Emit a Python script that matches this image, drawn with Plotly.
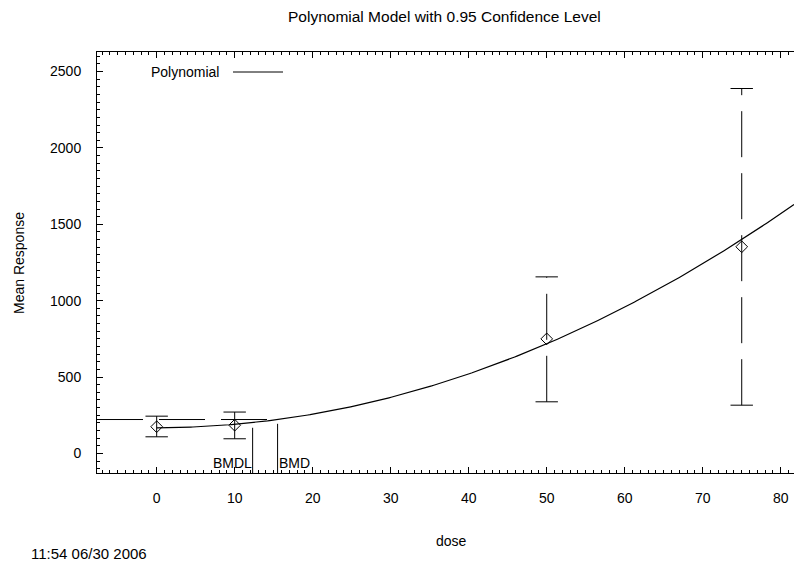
import numpy as np
import plotly.graph_objects as go

# ---- data ----
doses = [0, 10, 50, 75]
means = [175, 185, 750, 1353]
lower = [109, 96, 338, 316]
upper = [244, 271, 1156, 2389]

poly_coef = [168.0, 0.1, 0.2178]   # fitted polynomial model: b0 + b1*d + b2*d^2
bmd = 15.5
bmdl = 12.3
bmr_level = 222
bmd_top = 194
bmdl_top = 168

x_ticks = [0, 10, 20, 30, 40, 50, 60, 70, 80]
y_ticks = [0, 500, 1000, 1500, 2000, 2500]

title_text = "Polynomial Model with 0.95 Confidence Level"
x_title = "dose"
y_title = "Mean Response"
legend_name = "Polynomial"
stamp_text = "11:54 06/30 2006"

# ---- layout geometry ----
W, H = 794, 561
L, R, T, B = 97, 0, 52, 88
x_range = [-7.65, 81.7]
y_range = [-128, 2628]
pw, ph = W - L - R, H - T - B

def px2x(px):
    return (px - L) / pw

def py2y(py):
    return (H - B - py) / ph

FONT = "Liberation Sans, Arial, sans-serif"
fig = go.Figure()

# model curve
xc = np.linspace(0, x_range[1], 300)
yc = poly_coef[0] + poly_coef[1] * xc + poly_coef[2] * xc ** 2
fig.add_trace(go.Scatter(x=xc, y=yc, mode="lines",
                         line=dict(color="black", width=1.2), showlegend=False,
                         hoverinfo="skip"))

# confidence interval bars (dashed, drawn from bottom up)
for d, lo, hi in zip(doses, lower, upper):
    fig.add_trace(go.Scatter(x=[d, d], y=[lo, hi], mode="lines",
                             line=dict(color="black", width=1, dash="46px,16px"),
                             showlegend=False, hoverinfo="skip"))
fig.add_trace(go.Scatter(x=doses + doses, y=lower + upper, mode="markers",
                         marker=dict(symbol="line-ew", size=16,
                                     line=dict(color="black", width=1)),
                         showlegend=False, hoverinfo="skip"))

# means
fig.add_trace(go.Scatter(x=doses, y=means, mode="markers",
                         marker=dict(symbol="diamond-open", size=9, color="black",
                                     line=dict(color="black", width=1)),
                         showlegend=False, hoverinfo="skip"))

# BMR level line
fig.add_trace(go.Scatter(x=[x_range[0], bmd], y=[bmr_level, bmr_level], mode="lines",
                         line=dict(color="black", width=1, dash="46px,16px"),
                         showlegend=False, hoverinfo="skip"))
# BMD and BMDL lines
fig.add_trace(go.Scatter(x=[bmd, bmd], y=[y_range[0], bmd_top], mode="lines",
                         line=dict(color="black", width=1), showlegend=False,
                         hoverinfo="skip"))
fig.add_trace(go.Scatter(x=[bmdl, bmdl], y=[y_range[0], bmdl_top], mode="lines",
                         line=dict(color="black", width=1), showlegend=False,
                         hoverinfo="skip"))

ann_font = dict(family=FONT, size=14, color="black")
annotations = [
    dict(text="BMDL", x=bmdl, xref="x", xanchor="right", xshift=1,
         y=py2y(462.5), yref="paper", yanchor="middle", showarrow=False, font=ann_font),
    dict(text="BMD", x=bmd, xref="x", xanchor="left", xshift=-1,
         y=py2y(462.5), yref="paper", yanchor="middle", showarrow=False, font=ann_font),
    dict(text=legend_name, x=px2x(149), xref="paper", xanchor="left",
         y=py2y(72), yref="paper", yanchor="middle", showarrow=False, font=ann_font),
    dict(text=title_text, x=px2x(444), xref="paper", xanchor="center",
         y=py2y(17), yref="paper", yanchor="middle", showarrow=False,
         font=dict(family=FONT, size=15.5, color="black")),
    dict(text=x_title, x=px2x(452), xref="paper", xanchor="center",
         y=py2y(541), yref="paper", yanchor="middle", showarrow=False, font=ann_font),
    dict(text=y_title, x=px2x(19), xref="paper", xanchor="center",
         y=py2y(263), yref="paper", yanchor="middle", showarrow=False,
         textangle=-90, font=ann_font),
    dict(text=stamp_text, x=px2x(29), xref="paper", xanchor="left",
         y=py2y(553), yref="paper", yanchor="middle", showarrow=False,
         font=dict(family=FONT, size=15, color="black")),
]

shapes = [
    dict(type="line", xref="paper", yref="paper",
         x0=px2x(233), x1=px2x(283), y0=py2y(72), y1=py2y(72),
         line=dict(color="black", width=1)),
]

fig.update_layout(
    width=W, height=H,
    margin=dict(l=L, r=R, t=T, b=B, pad=0),
    paper_bgcolor="white", plot_bgcolor="white",
    showlegend=False,
    annotations=annotations,
    shapes=shapes,
    hovermode=False,
    font=dict(family=FONT, size=14, color="black"),
)
fig.update_xaxes(
    range=x_range, tickmode="array", tickvals=x_ticks,
    ticks="inside", ticklen=6, tickwidth=1, tickcolor="black",
    showline=True, linecolor="black", linewidth=1, mirror="allticks",
    showgrid=False, zeroline=False, ticklabelstandoff=12,
    tickfont=dict(family=FONT, size=14, color="black"),
    minor=dict(dtick=1, tick0=0, ticks="inside", ticklen=3, tickcolor="black",
               showgrid=False),
)
fig.update_yaxes(
    range=y_range, tickmode="array", tickvals=y_ticks,
    ticks="inside", ticklen=6, tickwidth=1, tickcolor="black",
    showline=True, linecolor="black", linewidth=1, mirror=False,
    showgrid=False, zeroline=False, ticklabelstandoff=12,
    tickfont=dict(family=FONT, size=14, color="black"),
    minor=dict(dtick=50, tick0=0, ticks="inside", ticklen=3, tickcolor="black",
               showgrid=False),
)

fig.write_html("out.html",
               config={"displayModeBar": False, "staticPlot": True},
               post_script="document.body.style.margin='0';document.body.style.overflow='hidden';")
